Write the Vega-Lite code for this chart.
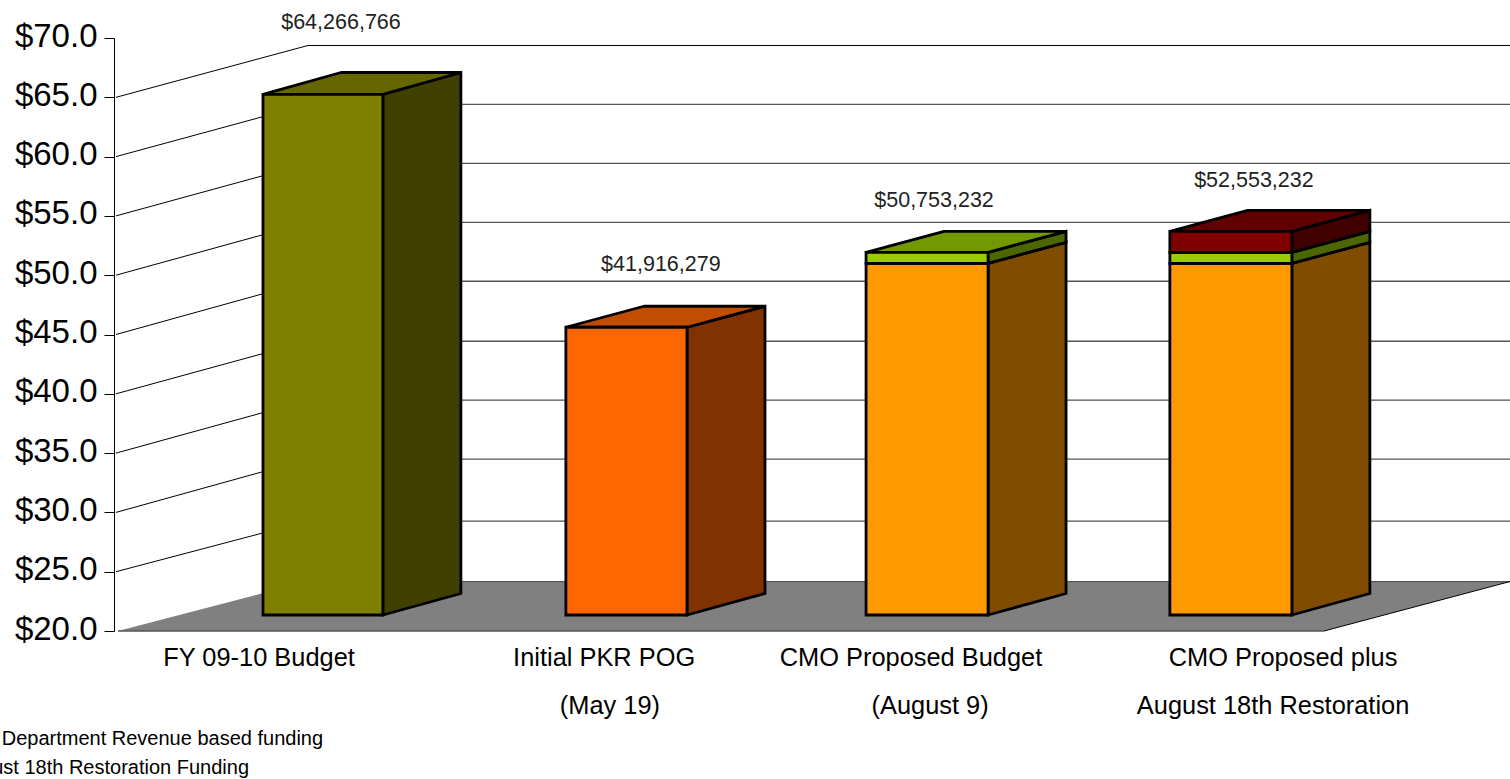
{
"$schema":"https://vega.github.io/schema/vega-lite/v6.json",
"width":1396,"height":593,
"autosize":{"type":"none"},
"padding":{"left":114,"top":38,"right":0,"bottom":148},
"background":"white",
"config":{"view":{"stroke":null}},
"datasets":{
"floor":[{"x":-0.4778,"x2":3.496,"y":20},{"x":0.1483,"x2":4.1087,"y":24.17}],
"grid":[
{"id":"g65","x":0.1483,"y":64.40},{"id":"g65","x":4.1087,"y":64.40},
{"id":"g60","x":0.1483,"y":59.43},{"id":"g60","x":4.1087,"y":59.43},
{"id":"g55","x":0.1483,"y":54.46},{"id":"g55","x":4.1087,"y":54.46},
{"id":"g50","x":0.1483,"y":49.49},{"id":"g50","x":4.1087,"y":49.49},
{"id":"g45","x":0.1483,"y":44.43},{"id":"g45","x":4.1087,"y":44.43},
{"id":"g40","x":0.1483,"y":39.46},{"id":"g40","x":4.1087,"y":39.46},
{"id":"g35","x":0.1483,"y":34.49},{"id":"g35","x":4.1087,"y":34.49},
{"id":"g30","x":0.1483,"y":29.27},{"id":"g30","x":4.1087,"y":29.27},
{"id":"g25","x":0.1483,"y":24.17},{"id":"g25","x":4.1087,"y":24.17},
{"id":"front","x":-0.4778,"y":20},{"id":"front","x":3.496,"y":20}
],
"wall":[
{"id":"top","x":0.1483,"y":69.37},{"id":"top","x":4.1087,"y":69.37},
{"id":"s65","x":-0.4843,"y":65},{"id":"s65","x":0.1483,"y":69.37},
{"id":"s60","x":-0.4843,"y":60},{"id":"s60","x":0.1483,"y":64.40},
{"id":"s55","x":-0.4843,"y":55},{"id":"s55","x":0.1483,"y":59.43},
{"id":"s50","x":-0.4843,"y":50},{"id":"s50","x":0.1483,"y":54.46},
{"id":"s45","x":-0.4843,"y":45},{"id":"s45","x":0.1483,"y":49.49},
{"id":"s40","x":-0.4843,"y":40},{"id":"s40","x":0.1483,"y":44.43},
{"id":"s35","x":-0.4843,"y":35},{"id":"s35","x":0.1483,"y":39.46},
{"id":"s30","x":-0.4843,"y":30},{"id":"s30","x":0.1483,"y":34.49},
{"id":"s25","x":-0.4843,"y":25},{"id":"s25","x":0.1483,"y":29.27},
{"id":"edge","x":3.496,"y":20},{"id":"edge","x":4.1087,"y":24.17}
],
"sides":[
{"part":"FY budget side","x":0.395,"y":21.35,"y2":65.24},{"part":"FY budget side","x":0.652,"y":23.16,"y2":67.09},
{"part":"PKR POG side","x":1.397,"y":21.35,"y2":45.61},{"part":"PKR POG side","x":1.654,"y":23.16,"y2":47.38},
{"part":"CMO3 base side","x":2.389,"y":21.35,"y2":51.00},{"part":"CMO3 base side","x":2.646,"y":23.16,"y2":52.77},
{"part":"CMO3 dept side","x":2.389,"y":51.00,"y2":51.93},{"part":"CMO3 dept side","x":2.646,"y":52.77,"y2":53.70},
{"part":"CMO4 base side","x":3.39,"y":21.35,"y2":51.00},{"part":"CMO4 base side","x":3.647,"y":23.16,"y2":52.77},
{"part":"CMO4 dept side","x":3.39,"y":51.00,"y2":51.93},{"part":"CMO4 dept side","x":3.647,"y":52.77,"y2":53.70},
{"part":"CMO4 restoration side","x":3.39,"y":51.93,"y2":53.70},{"part":"CMO4 restoration side","x":3.647,"y":53.70,"y2":55.47}
],
"tops":[
{"part":"FY budget top","x":0,"x2":0.395,"y":65.24},{"part":"FY budget top","x":0.257,"x2":0.652,"y":67.09},
{"part":"PKR POG top","x":0.998,"x2":1.397,"y":45.61},{"part":"PKR POG top","x":1.255,"x2":1.654,"y":47.38},
{"part":"CMO3 dept top","x":1.987,"x2":2.389,"y":51.93},{"part":"CMO3 dept top","x":2.244,"x2":2.646,"y":53.70},
{"part":"CMO4 restoration top","x":2.988,"x2":3.39,"y":53.70},{"part":"CMO4 restoration top","x":3.245,"x2":3.647,"y":55.47}
],
"fronts":[
{"part":"FY budget front","x":0,"x2":0.395,"y":21.35,"y2":65.24},
{"part":"PKR POG front","x":0.998,"x2":1.397,"y":21.35,"y2":45.61},
{"part":"CMO3 base front","x":1.987,"x2":2.389,"y":21.35,"y2":51.00},
{"part":"CMO3 dept front","x":1.987,"x2":2.389,"y":51.00,"y2":51.93},
{"part":"CMO4 base front","x":2.988,"x2":3.39,"y":21.35,"y2":51.00},
{"part":"CMO4 dept front","x":2.988,"x2":3.39,"y":51.00,"y2":51.93},
{"part":"CMO4 restoration front","x":2.988,"x2":3.39,"y":51.93,"y2":53.70}
],
"amounts":[
{"x":0.257,"y":71.23,"label":"$64,266,766"},
{"x":1.311,"y":50.84,"label":"$41,916,279"},
{"x":2.211,"y":56.23,"label":"$50,753,232"},
{"x":3.265,"y":57.91,"label":"$52,553,232"}
],
"categories":[
{"x":-0.013,"y":17.75,"label":"FY 09-10 Budget"},
{"x":1.124,"y":17.75,"label":"Initial PKR POG"},
{"x":1.143,"y":13.71,"label":"(May  19)"},
{"x":2.135,"y":17.75,"label":"CMO Proposed Budget"},
{"x":2.198,"y":13.71,"label":"(August 9)"},
{"x":3.361,"y":17.75,"label":"CMO Proposed plus"},
{"x":3.328,"y":13.71,"label":"August 18th Restoration"}
],
"notes":[
{"x":0.198,"y":10.92,"label":"& Department Revenue based funding"},
{"x":-0.046,"y":8.47,"label":"August 18th Restoration Funding"}
]
},
"encoding":{
"x":{"field":"x","type":"quantitative","axis":null,"scale":{"domain":[-0.4909,4.1087],"nice":false,"zero":false}},
"y":{"field":"y","type":"quantitative","scale":{"domain":[20,70],"nice":false,"zero":false},
"axis":{"title":null,"values":[20,25,30,35,40,45,50,55,60,65,70],"format":"$.1f","grid":false,"tickSize":10,"tickColor":"black","domainColor":"black","labelFont":"Liberation Sans","labelFontSize":33,"labelColor":"black","labelPadding":7,"labelOffset":-2,"labelOverlap":false,"labelBound":false,"labelFlush":false}}
},
"layer":[
{"data":{"name":"floor"},"mark":{"type":"area","orient":"horizontal","color":"#808080"},"encoding":{"x2":{"field":"x2"}}},
{"data":{"name":"grid"},"mark":{"type":"line","color":"#555555","strokeWidth":1.3},"encoding":{"detail":{"field":"id"}}},
{"data":{"name":"wall"},"mark":{"type":"line","color":"black","strokeWidth":1},"encoding":{"detail":{"field":"id"}}},
{"data":{"name":"sides"},"mark":{"type":"area","stroke":"black","strokeWidth":2.8,"strokeJoin":"miter"},"encoding":{"y2":{"field":"y2"},"fill":{"field":"part","type":"nominal","legend":null,"scale":{"domain":["FY budget front","FY budget top","FY budget side","PKR POG front","PKR POG top","PKR POG side","CMO3 base front","CMO3 base side","CMO3 dept front","CMO3 dept top","CMO3 dept side","CMO4 base front","CMO4 base side","CMO4 dept front","CMO4 dept side","CMO4 restoration front","CMO4 restoration top","CMO4 restoration side"],"range":["#808000","#666600","#404000","#FF6600","#C04D00","#803300","#FF9900","#804D00","#99CC00","#739900","#4D6600","#FF9900","#804D00","#99CC00","#4D6600","#800000","#600000","#400000"]}}}},
{"data":{"name":"tops"},"mark":{"type":"area","orient":"horizontal","stroke":"black","strokeWidth":2.8,"strokeJoin":"miter"},"encoding":{"x2":{"field":"x2"},"fill":{"field":"part","type":"nominal","legend":null}}},
{"data":{"name":"fronts"},"mark":{"type":"rect","stroke":"black","strokeWidth":2.8},"encoding":{"x2":{"field":"x2"},"y2":{"field":"y2"},"fill":{"field":"part","type":"nominal","legend":null}}},
{"data":{"name":"amounts"},"mark":{"type":"text","font":"Liberation Sans","fontSize":21.5,"align":"center","baseline":"middle","color":"#222222"},"encoding":{"text":{"field":"label"}}},
{"data":{"name":"categories"},"mark":{"type":"text","font":"Liberation Sans","fontSize":25.4,"align":"center","baseline":"middle","color":"black"},"encoding":{"text":{"field":"label"}}},
{"data":{"name":"notes"},"mark":{"type":"text","font":"Liberation Sans","fontSize":20,"align":"right","baseline":"middle","color":"black"},"encoding":{"text":{"field":"label"}}}
]
}
